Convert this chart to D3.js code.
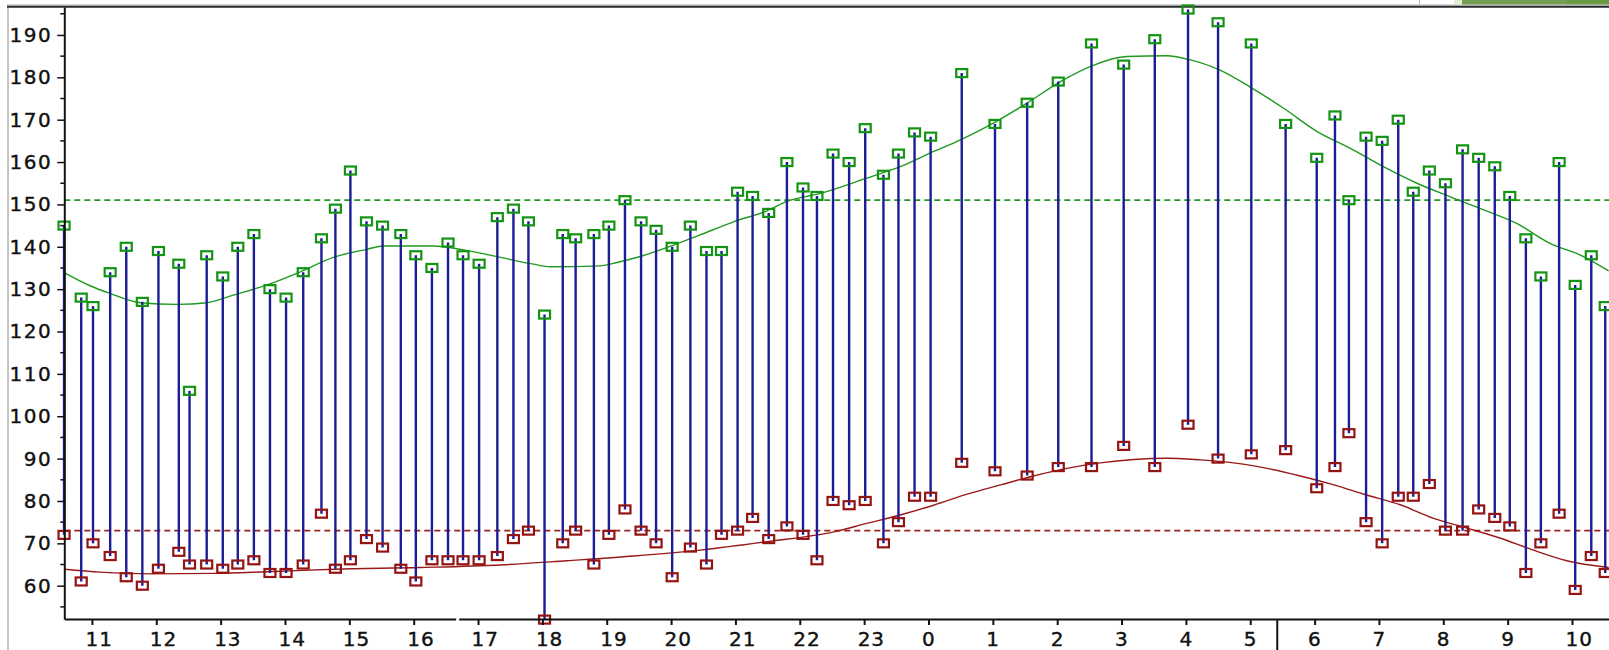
<!DOCTYPE html>
<html>
<head>
<meta charset="utf-8">
<script src="https://cdn.jsdelivr.net/npm/d3@7"></script>
<style>
  body { margin: 0; background: #fff; }
  svg { display: block; }
</style>
</head>
<body>
<script>
// readings: time of measurement, systolic and diastolic values
const times = [
  "10:34","10:50","11:01","11:17","11:32","11:47","12:02","12:21","12:31","12:47",
  "13:02","13:16","13:31","13:46","14:01","14:17","14:34","14:47","15:01","15:16",
  "15:31","15:48","16:02","16:17","16:32","16:46","17:01","17:18","17:33","17:47",
  "18:02","18:19","18:31","18:48","19:02","19:17","19:32","19:46","20:01","20:18",
  "20:33","20:47","21:02","21:16","21:31","21:48","22:03","22:16","22:31","22:46",
  "23:01","23:18","23:32","23:47","00:02","00:31","01:02","01:32","02:01","02:32",
  "03:02","03:31","04:02","04:30","05:01","05:33","06:02","06:19","06:32","06:48",
  "07:03","07:18","07:32","07:47","08:02","08:18","08:33","08:48","09:02","09:17",
  "09:31","09:48","10:03","10:18","10:31"
]
const systolic = [
  145,128,126,134,140,127,139,136,106,138,
  133,140,143,130,128,134,142,149,158,146,
  145,143,138,135,141,138,136,147,149,146,
  124,143,142,143,145,151,146,144,140,145,
  139,139,153,152,148,160,154,152,162,160,
  168,157,162,167,166,181,169,174,179,188,
  183,189,196,193,188,169,161,171,151,166,
  165,170,153,158,155,163,161,159,152,142,
  133,160,131,138,126
]
const diastolic = [
  72,61,70,67,62,60,64,68,65,65,
  64,65,66,63,63,65,77,64,66,71,
  69,64,61,66,66,66,66,67,71,73,
  52,70,73,65,72,78,73,70,62,69,
  65,72,73,76,71,74,72,66,80,79,
  80,70,75,81,81,89,87,86,88,88,
  93,88,98,90,91,92,83,88,96,75,
  70,81,81,84,73,73,78,76,74,63,
  70,77,59,67,63
]

const sysMean = 151
const diaMean = 73

// fitted trend curves (hours counted from first midnight)
const sysTrendHours = [10.57,10.97,11.28,11.75,12.32,12.79,13.2,13.72,14.24,14.75,15.27,15.53,16.1,16.3,16.83,17.35,17.86,18.12,18.9,19.16,19.52,20.04,20.45,20.97,21.49,21.8,22.32,23.04,23.56,24.08,24.49,25.01,25.53,26.05,26.57,27.08,27.71,28.02,28.53,29.0,29.52,30.04,30.55,31.07,31.59,32.11,32.63,33.14,33.66,34.18,34.57]
const sysTrendValues = [133.9,130.8,129,126.8,126.4,126.8,128.6,131,134.1,137.5,139.4,140.2,140.2,140.2,139.1,137.5,135.9,135.3,135.5,136.3,137.7,140.4,142.8,145.9,148.5,150.7,152.6,156.2,158.9,162.5,165.2,169.2,173.9,179,182.9,184.9,185.1,184.3,181.7,177.7,172.7,167.2,163.3,158.9,155,151.8,148.7,145.5,140.8,137.7,134.3]
const diaTrendHours = [10.57,11.13,11.91,12.89,13.72,14.76,16.1,17.35,18.38,19.42,20.45,21.49,22.53,23.04,23.56,24.08,24.6,25.12,25.63,26.15,26.67,27.19,27.71,28.22,28.74,29.26,29.78,30.3,30.81,31.33,31.85,32.37,32.89,33.4,33.92,34.57]
const diaTrendValues = [63.9,63.2,62.8,62.9,63.3,63.9,64.3,64.9,65.9,67,68.4,70.4,72.7,74.7,76.7,79,81.6,83.8,85.9,87.7,89,89.8,90.1,89.7,89,87.7,85.9,83.8,81.4,79.1,75.9,73.6,71.2,68.4,65.9,64.3]

const yTicks = d3.range(60, 191, 10)
const yMinorTicks = d3.range(55, 196, 10)

const w = 1609
const h = 650
const plotLeft = 64.3
const plotTop = 7
const plotBottom = 619

const base = new Date(2000, 0, 1)
const hourToDate = hr => new Date(base.getTime() + hr * 3600e3)

// turn "HH:MM" into dates, rolling over to the next day after midnight
let day = 0, prev = -1
const readings = times.map((t, i) => {
  const [hh, mm] = t.split(":").map(Number)
  const hr = hh + mm / 60
  if (hr < prev) day += 24
  prev = hr
  return { date: hourToDate(hr + day), sys: systolic[i], dia: diastolic[i] }
})

const start = hourToDate(10.5705)
const end = hourToDate(34.5705)

const x = d3.scaleTime().domain([start, end]).range([plotLeft, plotLeft + 1544.4])
const y = d3.scaleLinear().domain([52.14, 196.6]).range([plotBottom, plotTop])

const svg = d3.select("body").append("svg")
    .attr("width", w)
    .attr("height", h)

// window decoration bits
svg.append("line").attr("x1", 8).attr("x2", 8).attr("y1", 6).attr("y2", h)
    .attr("stroke", "#c4c4c4").attr("stroke-width", 2)
svg.append("line").attr("x1", 7).attr("x2", w).attr("y1", 5).attr("y2", 5)
    .attr("stroke", "#a8a8a8").attr("stroke-width", 1)
svg.append("line").attr("x1", 7).attr("x2", w).attr("y1", 6.8).attr("y2", 6.8)
    .attr("stroke", "#2a2a2a").attr("stroke-width", 2)
svg.append("line").attr("x1", 1419.5).attr("x2", 1419.5).attr("y1", 0).attr("y2", 4.5)
    .attr("stroke", "#b8b8b8").attr("stroke-width", 1)
svg.append("rect").attr("x", 1454).attr("y", 0).attr("width", 8).attr("height", 4.5).attr("fill", "#e2eed2")
svg.append("rect").attr("x", 1462).attr("y", 0).attr("width", 105).attr("height", 4.5).attr("fill", "#72a052")
svg.append("rect").attr("x", 1567).attr("y", 0).attr("width", 42).attr("height", 4.5).attr("fill", "#689a44")

// mean lines
svg.append("line")
    .attr("x1", plotLeft).attr("x2", w)
    .attr("y1", y(sysMean)).attr("y2", y(sysMean))
    .attr("stroke", "#229922").attr("stroke-width", 1.8)
    .attr("stroke-dasharray", "6,4")
svg.append("line")
    .attr("x1", plotLeft).attr("x2", w)
    .attr("y1", y(diaMean)).attr("y2", y(diaMean))
    .attr("stroke", "#992222").attr("stroke-width", 1.8)
    .attr("stroke-dasharray", "6,4")

// trend curves
const trend = d3.line()
    .x(d => x(hourToDate(d[0])))
    .y(d => y(d[1]))
    .curve(d3.curveMonotoneX)

svg.append("path")
    .attr("d", trend(d3.zip(sysTrendHours, sysTrendValues)))
    .attr("fill", "none").attr("stroke", "#1f9a1f").attr("stroke-width", 1.4)
svg.append("path")
    .attr("d", trend(d3.zip(diaTrendHours, diaTrendValues)))
    .attr("fill", "none").attr("stroke", "#9a1a1a").attr("stroke-width", 1.4)

// stems
svg.selectAll("line.stem")
    .data(readings)
    .enter()
    .append("line")
    .attr("class", "stem")
    .attr("x1", d => x(d.date))
    .attr("x2", d => x(d.date))
    .attr("y1", d => y(d.sys))
    .attr("y2", d => y(d.dia))
    .attr("stroke", "#1c1c96")
    .attr("stroke-width", 2.4)

const bw = 11
const bh = 8

svg.selectAll("rect.sys")
    .data(readings)
    .enter()
    .append("rect")
    .attr("class", "sys")
    .attr("x", d => x(d.date) - bw / 2)
    .attr("y", d => y(d.sys) - bh / 2)
    .attr("width", bw)
    .attr("height", bh)
    .attr("fill", "none")
    .attr("stroke", "#139413")
    .attr("stroke-width", 2.2)

svg.selectAll("rect.dia")
    .data(readings)
    .enter()
    .append("rect")
    .attr("class", "dia")
    .attr("x", d => x(d.date) - bw / 2)
    .attr("y", d => y(d.dia) - bh / 2)
    .attr("width", bw)
    .attr("height", bh)
    .attr("fill", "none")
    .attr("stroke", "#941313")
    .attr("stroke-width", 2.2)

// axes
const xAxis = d3.axisBottom(x)
    .ticks(d3.timeHour.every(1))
    .tickFormat(d3.timeFormat("%-H"))
    .tickSize(6)
    .tickSizeOuter(0)

const gx = svg.append("g")
    .attr("transform", `translate(0,${plotBottom})`)
    .call(xAxis)
gx.select(".domain").attr("stroke", "#111").attr("stroke-width", 2)
gx.selectAll(".tick line").attr("stroke", "#111").attr("stroke-width", 2)
gx.selectAll(".tick text")
    .attr("text-anchor", "start")
    .attr("x", -7)
    .attr("y", 13)
    .attr("fill", "#111")
    .attr("stroke", "#111")
    .attr("stroke-width", 0.4)
    .style("font-family", "DejaVu Sans")
    .style("font-size", "20px")
    .style("letter-spacing", "1px")

// small gap in the axis line and the long marker tick
svg.append("rect")
    .attr("x", x(hourToDate(16.66))).attr("y", plotBottom - 2)
    .attr("width", 3).attr("height", 4).attr("fill", "#fff")
svg.append("line")
    .attr("x1", x(hourToDate(29.42))).attr("x2", x(hourToDate(29.42)))
    .attr("y1", plotBottom).attr("y2", h)
    .attr("stroke", "#111").attr("stroke-width", 2)

const yAxis = d3.axisLeft(y)
    .tickValues(yTicks)
    .tickSize(7)
    .tickSizeOuter(0)
    .tickPadding(5)

const gy = svg.append("g")
    .attr("transform", `translate(${plotLeft},0)`)
    .call(yAxis)
gy.select(".domain").attr("stroke", "#111").attr("stroke-width", 2)
gy.selectAll(".tick line").attr("stroke", "#111").attr("stroke-width", 1.5)
gy.selectAll(".tick text")
    .attr("fill", "#111")
    .attr("stroke", "#111")
    .attr("stroke-width", 0.4)
    .style("font-family", "DejaVu Sans")
    .style("font-size", "20px")
    .style("letter-spacing", "1.5px")

gy.selectAll("line.minor")
    .data(yMinorTicks)
    .enter()
    .append("line")
    .attr("class", "minor")
    .attr("x1", -4).attr("x2", 0)
    .attr("y1", d => y(d)).attr("y2", d => y(d))
    .attr("stroke", "#111").attr("stroke-width", 1.5)
</script>
</body>
</html>
